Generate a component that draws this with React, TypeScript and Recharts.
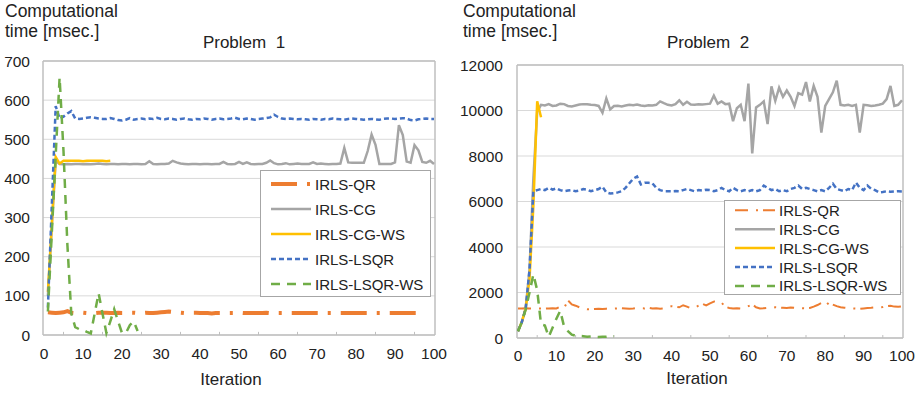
import React from 'react';
import { LineChart, Line, XAxis, YAxis, CartesianGrid, ReferenceLine } from 'recharts';

const SERIES_NAMES = ['IRLS-QR', 'IRLS-CG', 'IRLS-CG-WS', 'IRLS-LSQR', 'IRLS-LSQR-WS'];
const SERIES_KEYS = ['qr', 'cg', 'cgws', 'lsqr', 'lsqrws'];

const X_TICKS = [0, 10, 20, 30, 40, 50, 60, 70, 80, 90, 100];
const X_MARK_TICKS = [5, 15, 25, 35, 45, 55, 65, 75, 85, 95];
const P1_Y_TICKS = [0, 100, 200, 300, 400, 500, 600, 700];
const P2_Y_TICKS = [0, 2000, 4000, 6000, 8000, 10000, 12000];

// ---------- Problem 1 (values start at iteration 1) ----------
const p1QR = [
  58, 57, 56, 57, 58, 61, 57, 56, 57, 57, 56, 57, 56, 57, 57, 57, 56, 56, 57, 56,
  56, 57, 57, 56, 56, 57, 56, 56, 57, 58, 59, 60, 59, 57, 57, 56, 56, 57, 57, 56,
  56, 56, 55, 56, 56, 56, 56, 56, 56, 57, 56, 56, 56, 56, 56, 56, 57, 56, 56, 56,
  56, 56, 56, 56, 56, 56, 56, 56, 56, 56, 56, 56, 56, 56, 56, 56, 56, 56, 56, 56,
  56, 56, 56, 56, 56, 56, 56, 56, 56, 56, 56, 56, 56, 56, 56, 56, 56,
];
const p1CG = [
  100, 280, 445, 437, 436, 437, 436, 437, 437, 436,
  437, 436, 437, 438, 437, 436, 437, 437, 436, 437,
  437, 436, 437, 437, 436, 437, 444, 437, 436, 437,
  437, 438, 445, 441, 438, 437, 436, 437, 437, 436,
  437, 437, 436, 437, 437, 442, 437, 436, 437, 442,
  437, 441, 437, 436, 437, 437, 440, 446, 439, 436,
  437, 439, 436, 437, 438, 437, 437, 437, 441, 437,
  438, 437, 436, 437, 437, 438, 478, 441, 440, 440,
  440, 440, 470, 512, 486, 437, 437, 437, 437, 441,
  536, 511, 443, 440, 485, 472, 442, 440, 445, 437,
];
const p1CGWS = [110, 280, 455, 438, 445, 445, 445, 445, 445, 444, 445, 445, 445, 445, 445, 444, 445];
const p1LSQR = [
  70, 330, 585, 553, 558, 566, 572, 553, 552, 553,
  555, 556, 555, 553, 552, 552, 554, 552, 549, 548,
  550, 554, 550, 552, 553, 551, 553, 552, 555, 552,
  551, 553, 552, 550, 552, 553, 551, 550, 552, 551,
  553, 552, 550, 552, 553, 551, 552, 553, 555, 552,
  551, 553, 552, 550, 552, 553, 554, 556, 563, 557,
  553, 552, 553, 552, 551, 552, 551, 550, 552, 551,
  550, 552, 551, 553, 552, 551, 550, 552, 553, 552,
  551, 550, 551, 552, 551, 550, 552, 553, 553, 552,
  553, 554, 553, 549, 548, 551, 552, 553, 552, 552,
];
const p1LSQRWS = [60, 260, 460, 658, 470, 230, 55, 20, 15, 13, 8, 4, 55, 107, 55, 5, 35, 66, 35, 5, 5, 25, 35, 10];

// ---------- Problem 2 (values start at iteration 0) ----------
const p2QR = [
  1300, 1300, 1310, 1300, 1290, 1300, 1300, 1290, 1300, 1310,
  1300, 1380, 1310, 1650, 1480, 1420, 1350, 1300, 1260, 1270,
  1280, 1290, 1280, 1290, 1300, 1290, 1300, 1310, 1300, 1290,
  1300, 1320, 1310, 1300, 1330, 1300, 1310, 1290, 1300, 1350,
  1400, 1380, 1350, 1440, 1380, 1300, 1330, 1420, 1500, 1430,
  1520, 1600, 1650, 1550, 1380, 1320, 1300, 1310, 1290, 1350,
  1400, 1480, 1350, 1300, 1310, 1330, 1320, 1350, 1340, 1330,
  1320, 1340, 1330, 1320, 1310, 1300, 1320, 1380, 1450, 1540,
  1400, 1560, 1470, 1400, 1350, 1330, 1310, 1300, 1290, 1280,
  1300, 1320, 1330, 1350, 1340, 1360, 1400, 1420, 1380, 1370,
  1390,
];
const p2CG = [
  300, 700, 1300, 3000, 7000, 9950, 10250, 10220, 10280, 10200,
  10220, 10300, 10280, 10200, 10180, 10220, 10260, 10280, 10270, 10250,
  10240, 10200, 9900, 10530, 10050, 10200, 10210, 10180, 10220, 10250,
  10230, 10260, 10220, 10200, 10230, 10220, 10250, 10400, 10320, 10250,
  10220, 10280, 10450, 10250, 10380, 10260, 10250, 10270, 10260, 10280,
  10300, 10650, 10300, 10400, 10280, 10300, 9530, 10100, 10250, 9530,
  11180, 8110, 10130, 10250, 10400, 9400, 11060, 10420, 11000, 10600,
  10880, 10600, 10200, 10760, 10700, 11250, 10400, 11080, 10600, 9030,
  10200, 10500, 10800, 11310, 10250, 10220, 10250, 10200, 10250, 9030,
  10250, 10230, 10200, 10220, 10250, 10300, 10500, 11080, 10200, 10250,
  10450,
];
const p2CGWS = [300, 700, 1300, 2600, 5800, 10400, 9700];
const p2LSQR = [
  300, 700, 1300, 3000, 6450, 6500, 6550, 6500, 6600, 6520,
  6580, 6500, 6450, 6480, 6500, 6450, 6480, 6550, 6520, 6450,
  6500, 6550, 6650, 6400, 6350, 6370, 6400, 6450, 6600, 6800,
  7000, 7100, 6750, 6820, 6820, 6800, 6600, 6500, 6450, 6450,
  6450, 6460, 6450, 6500, 6550, 6500, 6450, 6500, 6480, 6520,
  6500, 6450, 6500, 6600, 6500, 6450, 6600, 6500, 6450, 6500,
  6450, 6500, 6450, 6500, 6700, 6600, 6500, 6550, 6450, 6500,
  6450, 6550, 6600, 6700, 6550, 6600, 6550, 6500, 6450, 6500,
  6450, 6600, 6780, 6550, 6500, 6450, 6550, 6500, 6830, 6600,
  6500, 6700, 6550, 6500, 6400, 6420, 6450, 6430, 6440, 6450,
  6440,
];
const p2LSQRWS = [300, 700, 1250, 2000, 2800, 2100, 600, 550, 50, 450, 850, 1200, 500, 300, 150, 100, 90, 80, 60, 70, 50, 40, 60, 50, 70, 80];

type Series = { key: string; start: number; values: number[] };

function buildRows(series: Series[]) {
  const rows: any[] = [];
  for (let i = 0; i <= 100; i++) {
    const row: any = { iter: i };
    for (const s of series) {
      const idx = i - s.start;
      if (idx >= 0 && idx < s.values.length) row[s.key] = s.values[idx];
    }
    rows.push(row);
  }
  return rows;
}

const rows1 = buildRows([
  { key: 'qr', start: 1, values: p1QR },
  { key: 'cg', start: 1, values: p1CG },
  { key: 'cgws', start: 1, values: p1CGWS },
  { key: 'lsqr', start: 1, values: p1LSQR },
  { key: 'lsqrws', start: 1, values: p1LSQRWS },
]);
const rows2 = buildRows([
  { key: 'qr', start: 0, values: p2QR },
  { key: 'cg', start: 0, values: p2CG },
  { key: 'cgws', start: 0, values: p2CGWS },
  { key: 'lsqr', start: 0, values: p2LSQR },
  { key: 'lsqrws', start: 0, values: p2LSQRWS },
]);

type St = { color: string; width: number; dash?: string };
const STYLE1: Record<string, St> = {
  qr: { color: '#ED7D31', width: 4, dash: '26 10 3 10' },
  cg: { color: '#A5A5A5', width: 2.5 },
  cgws: { color: '#FFC000', width: 2.5 },
  lsqr: { color: '#4472C4', width: 2.5, dash: '5 3' },
  lsqrws: { color: '#70AD47', width: 2.5, dash: '9 7' },
};
const STYLE2: Record<string, St> = {
  qr: { color: '#ED7D31', width: 2, dash: '13 8 2 5' },
  cg: { color: '#A5A5A5', width: 2.5 },
  cgws: { color: '#FFC000', width: 2.5 },
  lsqr: { color: '#4472C4', width: 2.5, dash: '5 3' },
  lsqrws: { color: '#70AD47', width: 2.5, dash: '9 7' },
};

const FONT = '"Liberation Sans", Arial, Helvetica, sans-serif';
const TEXT = '#222';

function edgeH(props: any) {
  const o = props && props.offset;
  if (!o) return [];
  return [o.top, o.top + o.height];
}
function edgeV(props: any) {
  const o = props && props.offset;
  if (!o) return [];
  return [o.left, o.left + o.width];
}

function LegendBox(p: { left: number; top: number; width: number; height: number; firstRow: number; step: number; styles: Record<string, St> }) {
  return (
    <svg style={{ position: 'absolute', left: p.left, top: p.top, overflow: 'visible' }} width={p.width} height={p.height}>
      <rect x={0.5} y={0.5} width={p.width - 1} height={p.height - 1} fill="#fff" stroke="#a6a6a6" />
      {SERIES_KEYS.map((k, i) => {
        const y = p.firstRow + i * p.step;
        const st = p.styles[k];
        return (
          <g key={k}>
            <line x1={11} x2={51} y1={y} y2={y} stroke={st.color} strokeWidth={st.width} strokeDasharray={st.dash} />
            <text x={55} y={y} dominantBaseline="central" fontSize={15} fill={TEXT} fontFamily={FONT}>
              {SERIES_NAMES[i]}
            </text>
          </g>
        );
      })}
    </svg>
  );
}

function Panel(p: {
  rows: any[]; styles: Record<string, St>; yTicks: number[]; yMax: number; yWidth: number;
  margin: any; tickMargin: number; xTickMargin: number; markLen: number;
}) {
  return (
    <LineChart width={460} height={393} data={p.rows} margin={p.margin}>
      <CartesianGrid vertical={false} stroke="#d9d9d9" strokeWidth={1} />
      <CartesianGrid horizontalCoordinatesGenerator={edgeH} verticalCoordinatesGenerator={edgeV} stroke="#bfbfbf" strokeWidth={1.5} />
      <XAxis
        type="number" dataKey="iter" domain={[0, 100]} ticks={X_TICKS} interval={0}
        padding={{ left: 1, right: 1 }} height={30} axisLine={false} tickLine={false}
        tickSize={0} tickMargin={p.xTickMargin}
        tick={{ fontSize: 15.5, fill: TEXT, fontFamily: FONT }}
      />
      <YAxis
        type="number" domain={[0, p.yMax]} ticks={p.yTicks} interval={0} width={p.yWidth}
        axisLine={false} tickLine={false} tickSize={0} tickMargin={p.tickMargin}
        tick={{ fontSize: 15.5, fill: TEXT, fontFamily: FONT }}
      />
      {X_MARK_TICKS.map((t) => (
        <ReferenceLine key={'m' + t} segment={[{ x: t, y: 0 }, { x: t, y: p.markLen }]} stroke="#bfbfbf" strokeWidth={1} />
      ))}
      {SERIES_KEYS.map((k, i) => (
        <Line
          key={k} type="linear" dataKey={k} name={SERIES_NAMES[i]} stroke={p.styles[k].color}
          strokeWidth={p.styles[k].width} strokeDasharray={p.styles[k].dash}
          dot={false} activeDot={false} isAnimationActive={false} connectNulls={false}
        />
      ))}
    </LineChart>
  );
}

const textBase: React.CSSProperties = { position: 'absolute', fontFamily: FONT, color: TEXT, whiteSpace: 'pre' };

export default function App() {
  return (
    <div style={{ position: 'absolute', left: 0, top: 0, width: 920, height: 393, background: '#fff', overflow: 'hidden' }}>
      <div style={{ position: 'absolute', left: 0, top: 0 }}>
        <Panel rows={rows1} styles={STYLE1} yTicks={P1_Y_TICKS} yMax={700} yWidth={43}
          margin={{ top: 61, right: 25, bottom: 28, left: 0 }} tickMargin={13} xTickMargin={13} markLen={8} />
      </div>
      <div style={{ position: 'absolute', left: 460, top: 0 }}>
        <Panel rows={rows2} styles={STYLE2} yTicks={P2_Y_TICKS} yMax={12000} yWidth={57}
          margin={{ top: 65, right: 17, bottom: 25, left: 0 }} tickMargin={14} xTickMargin={12} markLen={130} />
      </div>

      <div style={{ ...textBase, left: 5, top: 0.5, fontSize: 17.5, lineHeight: '20.5px' }}>{'Computational\ntime [msec.]'}</div>
      <div style={{ ...textBase, left: 463, top: 0.5, fontSize: 17.5, lineHeight: '20.5px' }}>{'Computational\ntime [msec.]'}</div>

      <div style={{ ...textBase, left: 144, width: 200, textAlign: 'center', top: 33, fontSize: 17, lineHeight: '20px' }}>{'Problem  1'}</div>
      <div style={{ ...textBase, left: 608, width: 200, textAlign: 'center', top: 33, fontSize: 17, lineHeight: '20px' }}>{'Problem  2'}</div>

      <div style={{ ...textBase, left: 131, width: 200, textAlign: 'center', top: 370, fontSize: 17, lineHeight: '20px' }}>Iteration</div>
      <div style={{ ...textBase, left: 597, width: 200, textAlign: 'center', top: 369, fontSize: 17, lineHeight: '20px' }}>Iteration</div>

      <LegendBox left={260} top={170} width={171} height={127} firstRow={14} step={25} styles={STYLE1} />
      <LegendBox left={724} top={200} width={177} height={95} firstRow={10.3} step={18.9} styles={STYLE2} />
    </div>
  );
}
